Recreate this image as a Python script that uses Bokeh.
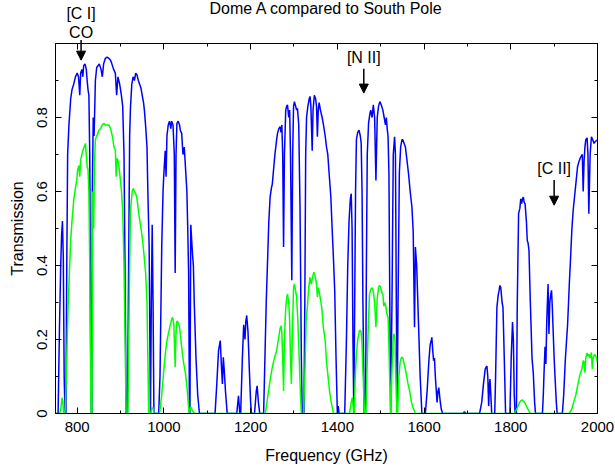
from bokeh.plotting import figure
from bokeh.layouts import column
from bokeh.models import (Range1d, LinearAxis, FixedTicker, Label, Arrow,
                          NormalHead, CustomJSTickFormatter)
from bokeh.embed import file_html
from bokeh.resources import INLINE

# ---------------- data ----------------
domeA_freq = [
    750, 756, 759, 762, 764, 766, 768, 770, 772, 774, 776, 778, 781, 785, 788, 792, 796, 800,
    803, 806, 808, 811, 813, 815, 818, 821, 823, 825, 827, 829, 831, 832.5, 834, 835, 837, 839,
    842, 845, 848, 851, 855, 858, 861, 865, 869, 873, 877, 880, 884, 888, 891, 894, 898, 902,
    905, 908, 911, 913, 916, 918, 921, 923, 926, 929, 932, 935, 938, 941, 944, 947, 950, 953,
    955, 958, 961, 963, 966, 969, 971, 973, 975, 977, 988, 991, 995, 998, 1000, 1003, 1005,
    1007, 1010, 1013, 1016, 1018, 1021, 1024, 1026, 1028, 1030, 1033, 1036, 1038, 1041, 1044,
    1047, 1050, 1053, 1055, 1057, 1059, 1060, 1062, 1064, 1066, 1068, 1070, 1074, 1078, 1082,
    1118, 1122, 1126, 1130, 1133, 1135, 1137, 1139, 1142, 1146,
    1168, 1172, 1175, 1177, 1181, 1184, 1187, 1189, 1191, 1194, 1197, 1200, 1202,
    1209, 1213, 1215, 1218, 1221,
    1230, 1233, 1236, 1239, 1242, 1245, 1248, 1250, 1253, 1256, 1258, 1260, 1262, 1265, 1268,
    1270, 1272, 1274, 1276, 1278, 1281, 1283, 1285, 1288, 1290, 1292, 1295, 1297, 1299, 1301,
    1304, 1306, 1308, 1311, 1314, 1317, 1319, 1323, 1325, 1327, 1329, 1332, 1335, 1337, 1339,
    1342, 1344, 1347, 1350, 1352, 1354, 1356, 1358, 1361, 1365, 1368, 1372, 1375, 1378, 1381,
    1385, 1388, 1391, 1394, 1397, 1400, 1402, 1404,
    1417, 1421, 1424, 1427, 1430, 1432, 1434, 1436, 1438, 1440, 1442, 1444, 1447, 1450, 1453,
    1455, 1457, 1459, 1462, 1465, 1467, 1469, 1472, 1475, 1477, 1480, 1483, 1486, 1489, 1492,
    1495, 1498, 1501, 1505, 1508, 1511, 1513, 1515, 1517, 1519, 1521, 1523, 1526, 1529, 1532,
    1534, 1536, 1538, 1540, 1543, 1546, 1549, 1551, 1554, 1557, 1560, 1564, 1568, 1572, 1575,
    1578, 1580, 1583, 1587, 1591, 1595,
    1603, 1607, 1611, 1614, 1617, 1618, 1620, 1622, 1624, 1626, 1630, 1632, 1634, 1637, 1640, 1643,
    1690, 1693, 1696,
    1728, 1733, 1737, 1741, 1743, 1745, 1747, 1749, 1751, 1752, 1754, 1756,
    1763, 1765, 1768, 1771, 1773, 1775, 1777, 1780, 1782, 1785, 1788,
    1798, 1801, 1804, 1806, 1808, 1810,
    1813, 1815, 1818, 1821, 1823, 1825, 1827, 1829, 1831, 1833, 1836, 1838, 1840, 1842, 1845,
    1849, 1852, 1855, 1857,
    1873, 1875, 1877, 1879, 1881, 1883, 1886, 1888, 1890, 1892, 1894, 1896, 1898, 1900, 1902,
    1905, 1907,
    1919, 1922, 1926, 1931, 1935, 1938, 1941, 1944, 1947, 1950, 1954, 1957, 1960, 1962, 1965,
    1967, 1969, 1971, 1973, 1976, 1978, 1980, 1983, 1986, 1989, 1992, 1995, 2000,
]
domeA_trans = [
    0.0, 0.0, 0.22, 0.40, 0.48, 0.52, 0.42, 0.10, 0.0, 0.0, 0.40, 0.70, 0.78, 0.85, 0.875, 0.89, 0.91, 0.92,
    0.91, 0.86, 0.92, 0.93, 0.91, 0.94, 0.945, 0.93, 0.90, 0.875, 0.86, 0.70, 0.20, 0.0, 0.0, 0.60, 0.80, 0.75,
    0.90, 0.935, 0.94, 0.945, 0.93, 0.91, 0.945, 0.96, 0.963, 0.96, 0.955, 0.945, 0.93, 0.92, 0.86, 0.91, 0.89, 0.86,
    0.83, 0.70, 0.30, 0.0, 0.0, 0.30, 0.75, 0.83, 0.89, 0.91, 0.90, 0.92, 0.915, 0.90, 0.89, 0.88, 0.86, 0.84,
    0.82, 0.775, 0.72, 0.60, 0.45, 0.0, 0.30, 0.51, 0.30, 0.0, 0.0, 0.10, 0.45, 0.60, 0.65, 0.71, 0.64,
    0.75, 0.78, 0.79, 0.77, 0.79, 0.78, 0.70, 0.38, 0.70, 0.784, 0.79, 0.78, 0.765, 0.757, 0.70,
    0.72, 0.66, 0.60, 0.50, 0.38, 0.0, 0.0, 0.51, 0.47, 0.43, 0.40, 0.30, 0.15, 0.05, 0.0,
    0.0, 0.08, 0.17, 0.197, 0.12, 0.08, 0.152, 0.12, 0.06, 0.0,
    0.0, 0.048, 0.0, 0.0, 0.15, 0.24, 0.20, 0.25, 0.265, 0.22, 0.12, 0.03, 0.0,
    0.0, 0.06, 0.075, 0.03, 0.0,
    0.0, 0.15, 0.30, 0.41, 0.52, 0.585, 0.61, 0.62, 0.66, 0.70, 0.72, 0.74, 0.757, 0.77, 0.775,
    0.76, 0.78, 0.70, 0.45, 0.70, 0.82, 0.83, 0.834, 0.80, 0.82, 0.70, 0.36, 0.70, 0.83, 0.843,
    0.83, 0.82, 0.825, 0.78, 0.55, 0.15, 0.0, 0.0, 0.30, 0.70, 0.80, 0.83, 0.85, 0.857, 0.83,
    0.71, 0.82, 0.86, 0.85, 0.83, 0.748, 0.82, 0.84, 0.82, 0.80, 0.78, 0.75, 0.72, 0.70, 0.65,
    0.585, 0.50, 0.42, 0.33, 0.15, 0.0, 0.02, 0.0,
    0.0, 0.20, 0.40, 0.52, 0.58, 0.594, 0.50, 0.20, 0.0, 0.30, 0.60, 0.74, 0.76, 0.766, 0.75,
    0.73, 0.60, 0.30, 0.0, 0.0, 0.40, 0.70, 0.784, 0.81, 0.82, 0.80, 0.834, 0.80, 0.63, 0.80,
    0.83, 0.843, 0.835, 0.82, 0.80, 0.78, 0.80, 0.77, 0.748, 0.65, 0.30, 0.0, 0.30, 0.70, 0.748,
    0.70, 0.30, 0.0, 0.30, 0.65, 0.72, 0.74, 0.74, 0.73, 0.72, 0.69, 0.65, 0.60, 0.558, 0.49,
    0.233, 0.45, 0.40, 0.25, 0.10, 0.0,
    0.0, 0.06, 0.14, 0.185, 0.20, 0.206, 0.17, 0.143, 0.15, 0.10, 0.03, 0.06, 0.07, 0.035, 0.01, 0.0,
    0.0, 0.005, 0.0,
    0.0, 0.03, 0.08, 0.12, 0.125, 0.128, 0.10, 0.02, 0.08, 0.093, 0.05, 0.0,
    0.0, 0.10, 0.287, 0.320, 0.332, 0.346, 0.34, 0.30, 0.287, 0.15, 0.0,
    0.0, 0.15, 0.247, 0.20, 0.05, 0.0,
    0.0, 0.30, 0.54, 0.555, 0.58, 0.567, 0.58, 0.585, 0.57, 0.567, 0.52, 0.468, 0.46, 0.44, 0.305,
    0.15, 0.107, 0.03, 0.0,
    0.0, 0.05, 0.12, 0.18, 0.134, 0.25, 0.35, 0.215, 0.30, 0.32, 0.333, 0.28, 0.215, 0.15, 0.10,
    0.03, 0.0,
    0.0, 0.05, 0.15, 0.24, 0.35, 0.423, 0.50, 0.55, 0.585, 0.62, 0.667, 0.68, 0.69, 0.694, 0.70,
    0.60, 0.68, 0.72, 0.74, 0.745, 0.70, 0.54, 0.70, 0.748, 0.74, 0.73, 0.735, 0.74,
]

pole_freq = [
    750, 760, 763, 765, 767, 769, 772, 775, 777, 779, 782, 785, 788, 792, 796, 799, 801, 804,
    806, 808, 811, 813, 816, 819, 821, 823, 825, 827, 829, 831, 832, 834, 836, 838, 840, 842,
    844, 847, 850, 854, 858, 861, 865, 869, 873, 877, 881, 885, 888, 890, 892, 895, 898, 902,
    905, 908, 911, 913, 917, 919, 921, 923, 925, 927, 929, 932, 935, 938, 942, 946, 950, 954,
    958, 961, 963, 965, 970, 972, 975, 977, 990, 995, 1000, 1004, 1007, 1011, 1015, 1018, 1020,
    1023, 1026, 1028, 1030, 1033, 1036, 1041, 1045, 1050, 1054, 1058, 1060, 1062, 1065, 1070,
    1234, 1240, 1245, 1250, 1255, 1260, 1264, 1268, 1270, 1272, 1274, 1276, 1278, 1281, 1283,
    1285, 1288, 1290, 1292, 1294, 1296, 1299, 1301, 1304, 1306, 1309, 1312, 1315, 1317, 1322,
    1325, 1328, 1331, 1334, 1337, 1340, 1343, 1346, 1349, 1352, 1354, 1356, 1358, 1361, 1364,
    1368, 1372, 1375, 1378, 1382, 1386, 1391,
    1428, 1432, 1434.5, 1437, 1439, 1441, 1444, 1447, 1451, 1454, 1456, 1458, 1461, 1463, 1466,
    1468, 1471, 1474, 1477, 1480, 1483, 1486, 1489, 1492, 1495, 1497, 1500, 1503, 1505, 1507,
    1509, 1512, 1514, 1517, 1519, 1521, 1523, 1526, 1529, 1531, 1533, 1535, 1537, 1539, 1542,
    1545, 1548, 1551, 1555, 1559, 1563, 1567, 1571, 1575, 1580,
    1808, 1815, 1820, 1826, 1832, 1838, 1845,
    1935, 1940, 1945, 1950, 1955, 1960, 1964, 1967, 1969, 1971, 1973, 1976, 1978, 1980, 1983,
    1986, 1988, 1990, 1993, 1996, 2000,
]
pole_trans = [
    0.0, 0.0, 0.02, 0.043, 0.03, 0.0, 0.0, 0.10, 0.20, 0.287, 0.38, 0.468, 0.52, 0.576, 0.61, 0.63, 0.658, 0.67,
    0.64, 0.685, 0.70, 0.71, 0.72, 0.73, 0.70, 0.667, 0.66, 0.60, 0.40, 0.10, 0.0, 0.0, 0.60, 0.50, 0.68, 0.74,
    0.747, 0.755, 0.766, 0.77, 0.78, 0.784, 0.78, 0.78, 0.78, 0.77, 0.75, 0.72, 0.712, 0.64, 0.69, 0.68, 0.65, 0.603,
    0.55, 0.40, 0.15, 0.0, 0.0, 0.20, 0.40, 0.55, 0.576, 0.60, 0.608, 0.60, 0.595, 0.58, 0.54, 0.51, 0.477, 0.43,
    0.378, 0.30, 0.15, 0.0, 0.0, 0.015, 0.015, 0.0, 0.0, 0.05, 0.12, 0.17, 0.197, 0.22, 0.24, 0.255, 0.26,
    0.24, 0.125, 0.22, 0.25, 0.245, 0.235, 0.18, 0.14, 0.107, 0.06, 0.0, 0.01, 0.018, 0.01, 0.0,
    0.0, 0.05, 0.09, 0.125, 0.15, 0.17, 0.20, 0.23, 0.237, 0.22, 0.15, 0.061, 0.20, 0.287, 0.31,
    0.323, 0.30, 0.25, 0.15, 0.08, 0.20, 0.34, 0.35, 0.33, 0.315, 0.25, 0.15, 0.05, 0.0, 0.0,
    0.10, 0.25, 0.29, 0.34, 0.368, 0.35, 0.37, 0.382, 0.37, 0.35, 0.315, 0.34, 0.33, 0.31, 0.287,
    0.23, 0.197, 0.14, 0.107, 0.06, 0.03, 0.0,
    0.0, 0.03, 0.043, 0.01, 0.0, 0.09, 0.16, 0.20, 0.224, 0.224, 0.21, 0.15, 0.05, 0.0, 0.0,
    0.10, 0.22, 0.32, 0.335, 0.34, 0.33, 0.30, 0.233, 0.31, 0.34, 0.346, 0.34, 0.325, 0.323, 0.29,
    0.30, 0.29, 0.27, 0.26, 0.18, 0.08, 0.0, 0.12, 0.21, 0.215, 0.20, 0.10, 0.0, 0.0, 0.10,
    0.14, 0.152, 0.15, 0.13, 0.107, 0.08, 0.06, 0.03, 0.015, 0.0,
    0.0, 0.015, 0.03, 0.037, 0.03, 0.015, 0.0,
    0.0, 0.01, 0.03, 0.05, 0.08, 0.107, 0.12, 0.143, 0.14, 0.11, 0.15, 0.164, 0.155, 0.16, 0.15,
    0.165, 0.12, 0.15, 0.16, 0.155, 0.138,
]

x_major = [800, 1000, 1200, 1400, 1600, 1800, 2000]
x_minor = [800, 900, 1000, 1100, 1200, 1300, 1400, 1500, 1600, 1700, 1800, 1900, 2000]
y_major = [0, 0.2, 0.4, 0.6, 0.8]
y_minor = [0.1, 0.2, 0.3, 0.4, 0.5, 0.6, 0.7, 0.8, 0.9]

title_text = "Dome A compared to South Pole"
x_label = "Frequency (GHz)"
y_label = "Transmission"

FONT = "Liberation Sans"
LEFT, RIGHT, TOP_H = 55, 18, 43

# ---------- header strip (title + labels above the frame) ----------
head = figure(width=615, height=TOP_H, output_backend="svg", toolbar_location=None,
              x_range=Range1d(750, 2000), y_range=Range1d(0, 1),
              x_axis_location=None, y_axis_location=None, title_location=None,
              min_border_left=LEFT, min_border_right=RIGHT, min_border_top=0,
              min_border_bottom=0, background_fill_color="white",
              border_fill_color="white", outline_line_color=None)
head.grid.visible = False

head.add_layout(Label(x=1375, y=0.81, text=title_text, text_font=FONT, text_font_size="16px",
                      text_align="center", text_baseline="middle", text_color="black"))
head_names = ["[C I]", "CO"]
head_freq = [809, 809]
head_y = [0.70, 0.26]
for name, f, ty in zip(head_names, head_freq, head_y):
    head.add_layout(Label(x=f, y=ty, text=name, text_font=FONT, text_font_size="16px",
                          text_align="center", text_baseline="middle", text_color="black"))
head.add_layout(Arrow(end=None, x_start=809, y_start=0.08, x_end=809, y_end=0.0,
                      line_color="black", line_width=1.5))

# ---------- main plot ----------
p = figure(width=615, height=467 - TOP_H, output_backend="svg", toolbar_location=None,
           x_range=head.x_range, y_range=Range1d(0, 1.0), title_location=None,
           min_border_left=LEFT, min_border_right=RIGHT, min_border_top=0,
           min_border_bottom=54, background_fill_color="white",
           border_fill_color="white")
p.grid.visible = False
p.outline_line_color = "black"
p.outline_line_width = 1

p.line(domeA_freq, domeA_trans, line_color="#0000ff", line_width=1.5)
p.line(pole_freq, pole_trans, line_color="#00ff00", line_width=1.5)

xt = FixedTicker(ticks=x_major, minor_ticks=x_minor)
yt = FixedTicker(ticks=y_major, minor_ticks=y_minor)


def style(ax):
    ax.major_tick_in = 6
    ax.major_tick_out = 0
    ax.minor_tick_in = 3
    ax.minor_tick_out = 0
    ax.axis_line_color = "black"
    ax.major_tick_line_color = "black"
    ax.minor_tick_line_color = "black"
    ax.major_label_text_font = FONT
    ax.major_label_text_font_size = "15px"
    ax.major_label_text_color = "black"
    ax.axis_label_text_font = FONT
    ax.axis_label_text_font_size = "16px"
    ax.axis_label_text_font_style = "normal"
    ax.axis_label_text_color = "black"


xa = p.xaxis[0]
xa.ticker = xt
xa.axis_label = x_label
xa.major_label_standoff = 8
xa.axis_label_standoff = 12
style(xa)

ya = p.yaxis[0]
ya.ticker = yt
ya.axis_label = y_label
ya.formatter = CustomJSTickFormatter(code="return tick == 0 ? '0' : tick.toFixed(1);")
ya.major_label_orientation = "vertical"
ya.major_label_standoff = 9
ya.axis_label_standoff = 8
style(ya)

blank = CustomJSTickFormatter(code="return '';")
top = LinearAxis(ticker=xt, formatter=blank, major_label_standoff=0)
style(top)
top.major_label_text_color = None
p.add_layout(top, "above")
right = LinearAxis(ticker=yt, formatter=blank, major_label_standoff=0)
style(right)
right.major_label_text_color = None
p.add_layout(right, "right")

# line annotations inside the frame
in_names = ["[N II]", "[C II]"]
in_freq = [1461, 1900]
in_text_y = [0.963, 0.662]
in_arrow = [(0.932, 0.866), (0.631, 0.563)]
for name, f, ty, ar in zip(in_names, in_freq, in_text_y, in_arrow):
    p.add_layout(Label(x=f, y=ty, text=name, text_font=FONT, text_font_size="16px",
                       text_align="center", text_baseline="middle", text_color="black"))
    p.add_layout(Arrow(end=NormalHead(size=9, fill_color="black", line_color="black"),
                       x_start=f, y_start=ar[0], x_end=f, y_end=ar[1],
                       line_color="black", line_width=1.5))
# [C I] / CO arrow continuing from the header strip
p.add_layout(Arrow(end=NormalHead(size=9, fill_color="black", line_color="black"),
                   x_start=809, y_start=1.0, x_end=809, y_end=0.955,
                   line_color="black", line_width=1.5))

layout = column(head, p, spacing=0)
open("out.html", "w").write(file_html(layout, INLINE))
